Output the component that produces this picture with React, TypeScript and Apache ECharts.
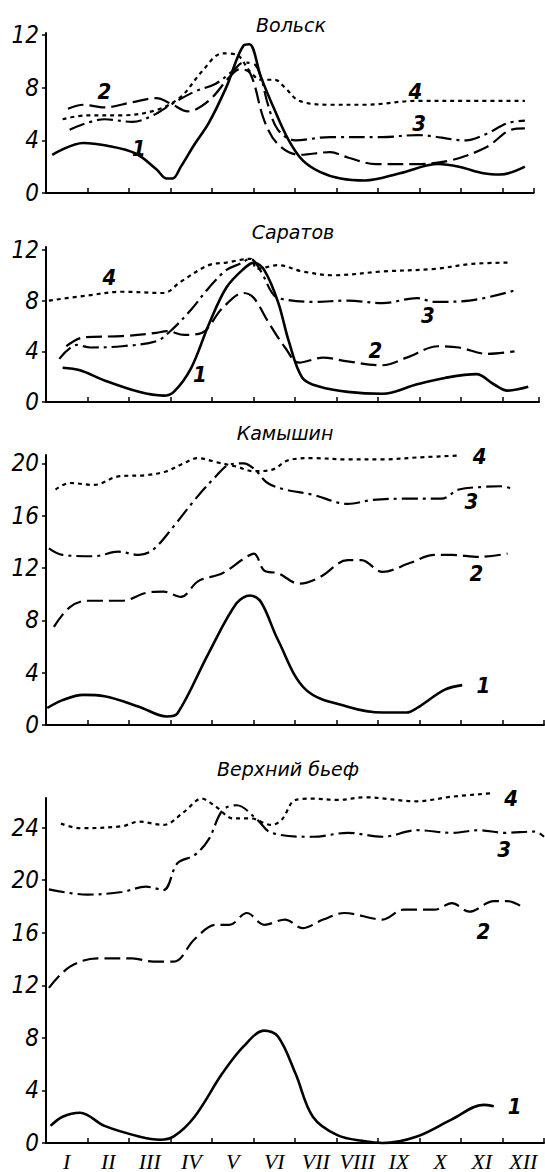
import React, { useEffect, useRef } from "react";
import * as echarts from "echarts";

// x = month position (0 = start of January, 12 = end of December), y = value
const months = ["I", "II", "III", "IV", "V", "VI", "VII", "VIII", "IX", "X", "XI", "XII"];
const panelTitles = ["Вольск", "Саратов", "Камышин", "Верхний бьеф"];
const yTicks1 = [0, 4, 8, 12];
const yTicks2 = [0, 4, 8, 12];
const yTicks3 = [0, 4, 8, 12, 16, 20];
const yTicks4 = [0, 4, 8, 12, 16, 20, 24];

// Вольск
const volsk1 = [[0.15, 2.9], [0.9, 3.8], [1.45, 3.6], [2.16, 3.0], [2.66, 1.8], [2.91, 1.1], [3.05, 1.1], [3.25, 2.0], [3.58, 3.7], [3.92, 5.3], [4.34, 8.0], [4.76, 11.2], [4.9, 11.3], [5.18, 8.8], [5.51, 6.3], [5.85, 4.0], [6.18, 2.5], [6.6, 1.6], [7.1, 1.1], [7.69, 0.95], [8.53, 1.5], [9.45, 2.2], [9.95, 2.0], [10.54, 1.5], [10.95, 1.4], [11.54, 2.0]];
const volsk2 = [[0.53, 6.4], [0.9, 6.7], [1.41, 6.5], [2.08, 6.9], [2.66, 7.2], [3.0, 6.8], [3.42, 6.2], [3.92, 7.0], [4.42, 8.8], [4.67, 9.4], [4.92, 9.1], [5.26, 5.5], [5.59, 3.7], [6.1, 2.9], [6.85, 3.1], [7.27, 2.7], [7.94, 2.2], [8.94, 2.2], [9.78, 2.5], [10.62, 3.5], [11.21, 4.8], [11.54, 4.9]];
const volsk3 = [[0.57, 4.8], [1.41, 5.6], [2.08, 5.4], [2.58, 5.9], [3.0, 6.7], [3.58, 7.7], [4.09, 8.3], [4.51, 9.3], [4.76, 9.9], [5.01, 9.8], [5.18, 8.8], [5.34, 6.8], [5.59, 4.8], [6.01, 4.0], [6.85, 4.25], [8.11, 4.25], [8.94, 4.4], [10.12, 4.0], [10.62, 4.5], [11.12, 5.3], [11.54, 5.5]];
const volsk4 = [[0.4, 5.6], [0.99, 5.9], [1.83, 5.9], [2.66, 6.3], [3.25, 7.3], [3.75, 9.2], [4.25, 10.6], [4.59, 10.5], [4.92, 9.2], [5.18, 8.6], [5.51, 8.6], [5.76, 8.0], [6.1, 7.0], [6.85, 6.7], [7.69, 6.7], [8.94, 7.0], [10.2, 7.0], [11.54, 7.0]];
const volskLabels = [[2.24, 3.4, "1"], [1.41, 7.7, "2"], [8.99, 5.3, "3"], [8.9, 7.7, "4"]];

// Саратов
const saratov1 = [[0.4, 2.7], [0.82, 2.5], [1.41, 1.7], [2.24, 0.8], [2.83, 0.5], [3.08, 0.8], [3.5, 2.7], [3.92, 6.1], [4.34, 9.0], [4.76, 10.5], [5.01, 11.0], [5.26, 10.4], [5.59, 7.9], [5.85, 4.8], [6.18, 1.9], [6.6, 1.2], [7.27, 0.8], [8.11, 0.65], [8.94, 1.4], [9.61, 1.9], [10.37, 2.2], [10.79, 1.4], [11.12, 0.9], [11.62, 1.2]];
const saratov2 = [[0.49, 4.4], [0.9, 5.1], [1.83, 5.2], [2.66, 5.45], [2.91, 5.6], [3.33, 5.3], [3.75, 5.45], [4.25, 7.4], [4.76, 8.6], [5.01, 8.2], [5.34, 6.4], [5.76, 4.3], [6.1, 3.1], [6.68, 3.5], [7.27, 3.2], [8.11, 2.9], [8.69, 3.5], [9.45, 4.4], [9.95, 4.3], [10.62, 3.8], [11.29, 4.0]];
const saratov3 = [[0.32, 3.4], [0.74, 4.5], [1.07, 4.3], [1.83, 4.4], [2.66, 4.8], [3.0, 5.6], [3.5, 7.3], [3.92, 9.0], [4.34, 10.4], [4.67, 10.9], [4.92, 11.3], [5.18, 10.3], [5.43, 8.7], [5.59, 8.2], [6.43, 7.9], [7.27, 8.0], [8.11, 7.8], [8.94, 8.2], [9.36, 7.9], [10.2, 8.0], [11.29, 8.8]];
const saratov4 = [[0.07, 8.0], [0.99, 8.4], [1.83, 8.7], [2.83, 8.6], [3.25, 9.5], [3.92, 10.8], [4.34, 11.0], [4.92, 11.3], [5.09, 10.5], [5.59, 10.8], [6.18, 10.3], [6.93, 10.0], [8.11, 10.3], [9.36, 10.5], [10.28, 10.9], [11.21, 11.0]];
const saratovLabels = [[3.71, 2.2, "1"], [7.94, 4.1, "2"], [9.2, 6.8, "3"], [1.53, 9.8, "4"]];

// Камышин
const kamyshin1 = [[0.03, 1.3], [0.4, 1.9], [0.9, 2.3], [1.41, 2.2], [2.24, 1.4], [2.91, 0.65], [3.17, 0.9], [3.92, 5.5], [4.59, 9.3], [4.92, 9.9], [5.18, 9.4], [5.59, 6.5], [6.26, 2.7], [7.27, 1.4], [8.11, 0.95], [8.69, 0.95], [8.94, 1.3], [9.61, 2.7], [10.03, 3.05]];
const kamyshin2 = [[0.19, 7.5], [0.57, 9.0], [0.99, 9.5], [1.83, 9.5], [2.41, 10.1], [2.83, 10.2], [3.25, 9.8], [3.67, 11.0], [4.25, 11.6], [4.76, 12.7], [5.01, 13.1], [5.26, 11.8], [5.59, 11.6], [6.1, 10.8], [6.6, 11.3], [7.27, 12.6], [7.6, 12.6], [8.11, 11.7], [8.78, 12.4], [9.36, 13.0], [9.78, 13.0], [10.45, 12.85], [11.12, 13.1]];
const kamyshin3 = [[0.07, 13.5], [0.4, 13.0], [1.16, 12.9], [1.74, 13.25], [2.24, 13.0], [2.58, 13.4], [3.08, 15.2], [3.58, 17.2], [4.09, 19.0], [4.42, 19.9], [4.76, 20.0], [5.01, 19.6], [5.34, 18.5], [5.76, 18.0], [6.43, 17.6], [7.27, 16.9], [7.86, 17.2], [8.61, 17.3], [9.53, 17.3], [9.95, 18.0], [10.54, 18.2], [10.95, 18.25], [11.29, 18.0]];
const kamyshin4 = [[0.23, 18.0], [0.57, 18.5], [1.16, 18.35], [1.74, 19.0], [2.41, 19.1], [2.91, 19.4], [3.25, 19.9], [3.67, 20.4], [4.09, 20.1], [4.59, 19.75], [5.01, 19.4], [5.43, 19.5], [5.85, 20.25], [6.43, 20.4], [7.27, 20.3], [8.11, 20.3], [8.94, 20.45], [9.95, 20.6]];
const kamyshinLabels = [[10.54, 3.05, "1"], [10.37, 11.6, "2"], [10.25, 17.1, "3"], [10.45, 20.5, "4"]];

// Верхний бьеф
const upper1 = [[0.11, 1.3], [0.4, 2.0], [0.82, 2.3], [1.41, 1.3], [2.24, 0.5], [2.75, 0.25], [3.08, 0.5], [3.58, 2.0], [4.25, 5.3], [4.76, 7.35], [5.26, 8.55], [5.59, 8.1], [6.01, 5.3], [6.43, 2.0], [7.02, 0.6], [7.69, 0.13], [8.11, 0.0], [8.94, 0.5], [9.78, 1.8], [10.54, 2.9], [10.79, 2.8]];
const upper2 = [[0.07, 11.8], [0.57, 13.4], [1.24, 14.05], [2.08, 14.05], [2.58, 13.8], [3.08, 13.8], [3.58, 15.5], [4.09, 16.6], [4.42, 16.6], [4.84, 17.5], [5.26, 16.6], [5.76, 17.0], [6.18, 16.35], [6.68, 17.0], [7.19, 17.5], [8.11, 17.0], [8.61, 17.75], [9.36, 17.75], [9.78, 18.25], [10.2, 17.6], [10.79, 18.4], [11.12, 18.4], [11.46, 18.0]];
const upper3 = [[0.07, 19.3], [0.99, 18.9], [1.83, 19.1], [2.41, 19.5], [2.83, 19.25], [3.17, 21.3], [3.58, 21.9], [3.92, 23.1], [4.25, 25.3], [4.59, 25.7], [5.09, 24.6], [5.43, 23.6], [6.43, 23.3], [7.27, 23.6], [8.11, 23.3], [8.94, 23.8], [9.78, 23.6], [10.45, 23.8], [11.04, 23.6], [11.79, 23.7], [12.0, 23.3]];
const upper4 = [[0.36, 24.3], [0.82, 23.95], [1.83, 24.1], [2.24, 24.45], [2.83, 24.2], [3.33, 25.2], [3.75, 26.2], [4.09, 25.6], [4.51, 24.7], [4.92, 24.7], [5.43, 24.2], [5.68, 24.6], [6.01, 26.1], [6.43, 26.2], [7.02, 26.1], [7.69, 26.3], [8.94, 26.0], [9.78, 26.35], [10.7, 26.6]];
const upperLabels = [[11.29, 2.8, "1"], [10.54, 16.1, "2"], [11.04, 22.3, "3"], [11.21, 26.2, "4"]];

const panelSeries = [
  [volsk1, volsk2, volsk3, volsk4],
  [saratov1, saratov2, saratov3, saratov4],
  [kamyshin1, kamyshin2, kamyshin3, kamyshin4],
  [upper1, upper2, upper3, upper4],
];
const panelLabels = [volskLabels, saratovLabels, kamyshinLabels, upperLabels];
const panelYTicks = [yTicks1, yTicks2, yTicks3, yTicks4];
const panelYMax = [12.15, 12.23, 20.64, 26.25];
const panelXMax = [11.75, 11.88, 12, 12];

const INK = "#000";
const NUM_FONT = "'Liberation Sans Narrow', 'DejaVu Sans Condensed', sans-serif";

const grids = [
  { left: 46, top: 33, height: 160 },
  { left: 46, top: 247, height: 155 },
  { left: 46, top: 455, height: 270 },
  { left: 46, top: 798, height: 346 },
];
const titlePos = [
  [291, 25],
  [293, 232],
  [285, 433],
  [288, 769],
];
const lineStyles = [
  { width: 2.6, type: "solid" },
  { width: 2.2, type: [16, 6] },
  { width: 2.2, type: [16, 5, 3, 5] },
  { width: 2.2, type: [4, 4] },
];

export default function App() {
  const ref = useRef<HTMLDivElement>(null);
  useEffect(() => {
    if (!ref.current) return;
    const chart = echarts.init(ref.current, undefined, { renderer: "svg" });
    const pxPerMonth = 41.5;
    const grid = grids.map((g, i) => ({
      left: g.left,
      top: g.top,
      height: g.height,
      width: pxPerMonth * panelXMax[i],
      containLabel: false,
    }));
    const xAxis: any[] = grids.map((_, i) => ({
      type: "value",
      gridIndex: i,
      min: 0,
      max: panelXMax[i],
      interval: 1,
      axisLine: { show: true, lineStyle: { color: INK, width: 2 } },
      axisTick: { show: true, inside: true, length: 5, lineStyle: { color: INK, width: 1.5 } },
      axisLabel: { show: false },
      splitLine: { show: false },
    }));
    xAxis.push({
      type: "category",
      gridIndex: 3,
      data: months,
      boundaryGap: true,
      position: "bottom",
      axisLine: { show: false },
      axisTick: { show: false },
      axisLabel: {
        show: true,
        margin: 7,
        color: INK,
        fontFamily: "'Liberation Serif', serif",
        fontStyle: "italic",
        fontSize: 22,
        interval: 0,
      },
      splitLine: { show: false },
    });
    const yAxis = grids.map((_, i) => ({
      type: "value",
      gridIndex: i,
      min: 0,
      max: panelYMax[i],
      axisLine: { show: true, lineStyle: { color: INK, width: 2 } },
      axisTick: {
        show: true,
        length: 4,
        customValues: panelYTicks[i],
        lineStyle: { color: INK, width: 1.5 },
      },
      axisLabel: {
        show: true,
        customValues: panelYTicks[i],
        color: INK,
        margin: 7,
        fontFamily: NUM_FONT,
        fontStyle: "italic",
        fontSize: 24,
      },
      splitLine: { show: false },
    }));
    const series: any[] = [];
    panelSeries.forEach((list, p) => {
      list.forEach((data, s) => {
        series.push({
          type: "line",
          xAxisIndex: p,
          yAxisIndex: p,
          data,
          smooth: 0.35,
          showSymbol: false,
          symbol: "none",
          clip: false,
          lineStyle: { color: INK, width: lineStyles[s].width, type: lineStyles[s].type },
          silent: true,
        });
      });
      series.push({
        type: "scatter",
        xAxisIndex: p,
        yAxisIndex: p,
        symbolSize: 0,
        clip: false,
        itemStyle: { color: INK, opacity: 1 },
        data: panelLabels[p].map((d) => ({ value: [d[0], d[1]], name: d[2] })),
        label: {
          show: true,
          position: "inside",
          formatter: "{b}",
          color: INK,
          opacity: 1,
          textBorderWidth: 0,
          fontFamily: NUM_FONT,
          fontStyle: "italic",
          fontWeight: "bold",
          fontSize: 22,
        },
        silent: true,
      });
    });
    const graphic = panelTitles.map((t, i) => ({
      type: "text",
      x: titlePos[i][0],
      y: titlePos[i][1],
      style: {
        text: t,
        align: "center",
        verticalAlign: "middle",
        fill: INK,
        font: "italic 19px 'DejaVu Sans', sans-serif",
      },
    }));
    chart.setOption({
      animation: false,
      backgroundColor: "#fff",
      grid,
      xAxis,
      yAxis,
      series,
      graphic,
    });
    return () => chart.dispose();
  }, []);
  return (
    <div
      ref={ref}
      style={{ position: "absolute", left: 0, top: 0, width: 545, height: 1172, background: "#fff" }}
    />
  );
}
